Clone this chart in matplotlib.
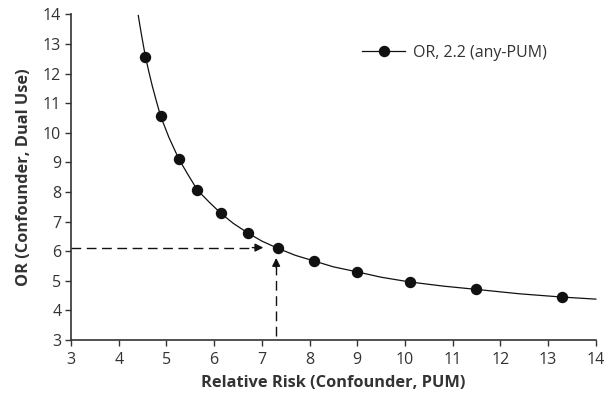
import matplotlib.pyplot as plt

plt.rcParams['font.family'] = ['Open Sans', 'DejaVu Sans']

# marker points
rr_points = [4.56, 4.88, 5.26, 5.65, 6.14, 6.70, 7.33, 8.09, 9.00, 10.10, 11.49, 13.29]
or_points = [12.57, 10.55, 9.11, 8.06, 7.28, 6.62, 6.10, 5.67, 5.30, 4.96, 4.71, 4.45]

# smooth curve (extends past the markers)
rr_curve = [4.41, 4.44, 4.48, 4.52, 4.56, 4.63, 4.70, 4.78, 4.88, 5.05, 5.26, 5.45, 5.65,
            5.90, 6.14, 6.40, 6.70, 7.00, 7.33, 7.70, 8.09, 8.50, 9.00, 9.50, 10.10,
            10.80, 11.49, 12.40, 13.29, 14.0]
or_curve = [13.96, 13.66, 13.28, 12.92, 12.57, 12.07, 11.60, 11.12, 10.55, 9.85, 9.11,
            8.59, 8.06, 7.65, 7.28, 6.94, 6.62, 6.34, 6.10, 5.86, 5.67, 5.47, 5.30, 5.12,
            4.96, 4.82, 4.71, 4.56, 4.45, 4.38]

# reference lines for the highlighted point
ref_rr = 7.30
ref_or = 6.12

fig = plt.figure(figsize=(6.08, 3.97), dpi=100)
ax = fig.add_axes([0.1168, 0.1436, 0.8632, 0.8204])

ax.plot(rr_curve, or_curve, color='#111111', linewidth=0.9, zorder=2, clip_on=False)
ax.plot(rr_points, or_points, 'o', color='#111111', markersize=7.2, zorder=3)
# legend proxy
ax.plot([], [], '-o', color='#111111', linewidth=0.9, markersize=7.2, label='OR, 2.2 (any-PUM)')

dash = (0, (7, 4))
ax.plot([3, 6.85], [ref_or, ref_or], color='#111111', linewidth=1.0, linestyle=dash)
ax.annotate('', xy=(7.03, ref_or), xytext=(6.8, ref_or),
            arrowprops=dict(arrowstyle='-|>', color='#111111', lw=1.0,
                            mutation_scale=12, shrinkA=0, shrinkB=0))
ax.plot([ref_rr, ref_rr], [3.15, 5.6], color='#111111', linewidth=1.0, linestyle=dash)
ax.annotate('', xy=(ref_rr, 5.77), xytext=(ref_rr, 5.45),
            arrowprops=dict(arrowstyle='-|>', color='#111111', lw=1.0,
                            mutation_scale=12, shrinkA=0, shrinkB=0))

ax.set_xlim(3, 14)
ax.set_ylim(3, 14)
ax.set_xticks(range(3, 15))
ax.set_yticks(range(3, 15))
for s in ['top', 'right']:
    ax.spines[s].set_visible(False)
for s in ['left', 'bottom']:
    ax.spines[s].set_color('#333333')
    ax.spines[s].set_linewidth(1.2)
ax.tick_params(direction='out', length=4, width=1, colors='#333333', labelsize=11.5,
               labelcolor='#333333')
ax.tick_params(axis='x', pad=5)
ax.tick_params(axis='y', pad=3)

ax.set_xlabel('Relative Risk (Confounder, PUM)', fontsize=11.8, fontweight='bold',
              color='#333333', labelpad=5)
ax.set_ylabel('OR (Confounder, Dual Use)', fontsize=11.8, fontweight='bold',
              color='#333333', labelpad=8)

ax.legend(loc='upper right', bbox_to_anchor=(0.935, 0.95), frameon=False, fontsize=11.5,
          labelcolor='#333333', handlelength=2.7, handletextpad=0.5)

fig.savefig('out.png', dpi=100)
